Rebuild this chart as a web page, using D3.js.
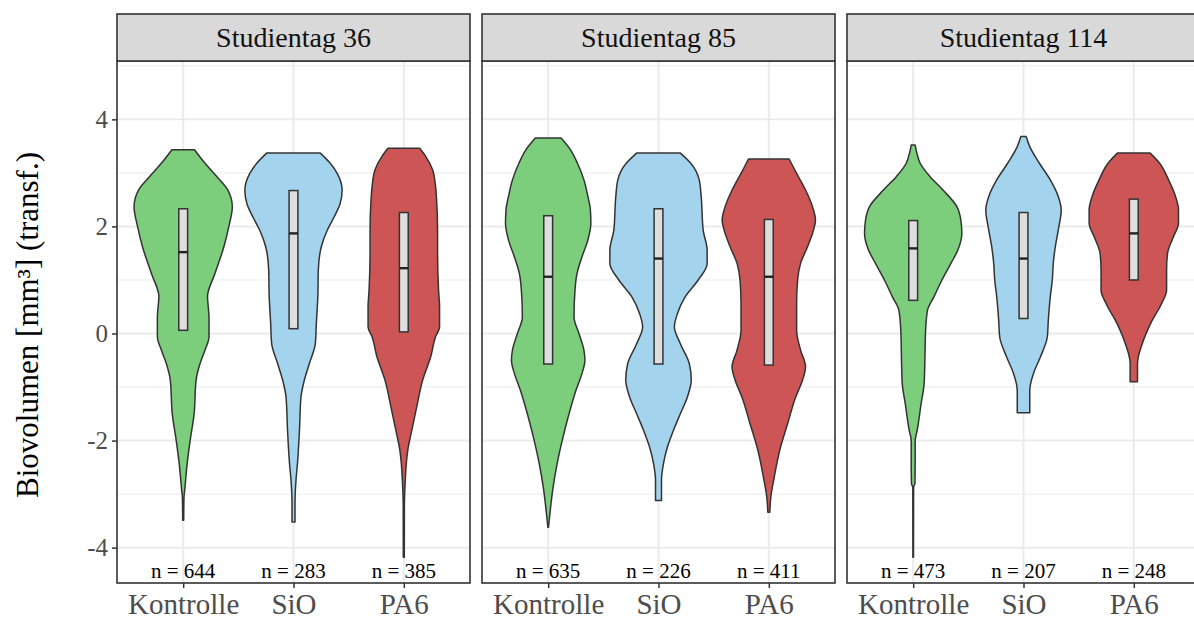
<!DOCTYPE html>
<html>
<head>
<meta charset="utf-8">
<script src="https://cdn.jsdelivr.net/npm/d3@7/dist/d3.min.js"></script>
<style>
  html, body { margin: 0; padding: 0; background: #fff; }
  svg { display: block; }
  text { font-family: "Liberation Serif", "Times New Roman", serif; }
</style>
</head>
<body>
<svg id="chart" width="1194" height="619"></svg>
<script>
// ---------------- data ----------------
const days = ["Studientag 36", "Studientag 85", "Studientag 114"];
const groups = ["Kontrolle", "SiO", "PA6"];
const groupColors = ["#7CCD7C", "#A4D3EE", "#CD5555"];
const yTicks = [-4, -2, 0, 2, 4];
const nCounts = [[644, 283, 385], [635, 226, 411], [473, 207, 248]];

// box statistics per day: [Q1, median, Q3] for Kontrolle, SiO, PA6
const boxDay36  = [[0.06, 1.52, 2.33], [0.09, 1.87, 2.67], [0.03, 1.22, 2.26]];
const boxDay85  = [[-0.57, 1.06, 2.20], [-0.57, 1.40, 2.33], [-0.59, 1.06, 2.13]];
const boxDay114 = [[0.62, 1.59, 2.11], [0.28, 1.40, 2.26], [1.00, 1.87, 2.51]];

// violin density profiles: [value, relative density]
const violin36Kontrolle = [[3.43,.23],[3.18,.44],[2.93,.68],[2.68,.90],[2.37,.99],[2.0,.92],[1.62,.82],[1.12,.64],[0.69,.49],[0.45,.51],[0.31,.52],[-0.06,.52],[-0.31,.44],[-0.56,.34],[-0.87,.26],[-1.5,.22],[-2.0,.14],[-2.43,.08],[-2.93,.03],[-3.06,.016],[-3.49,.01]];
const violin36SiO = [[3.37,.54],[3.18,.74],[2.99,.88],[2.68,.98],[2.43,.94],[2.18,.82],[1.93,.68],[1.62,.56],[1.19,.50],[0.69,.49],[0.19,.46],[-0.19,.44],[-0.56,.32],[-0.94,.20],[-1.19,.15],[-1.81,.12],[-2.43,.08],[-2.74,.05],[-3.18,.03],[-3.52,.03]];
const violin36PA6 = [[3.46,.32],[3.31,.44],[3.06,.58],[2.74,.64],[2.5,.66],[1.93,.68],[1.5,.68],[0.81,.70],[0.5,.72],[0.12,.72],[-0.06,.64],[-0.44,.54],[-0.87,.38],[-1.37,.26],[-1.81,.16],[-2.18,.08],[-2.43,.05],[-2.81,.026],[-3.2,.012],[-4.18,.01]];
const violin85Kontrolle = [[3.65,.26],[3.43,.45],[3.18,.59],[2.87,.72],[2.56,.80],[2.31,.85],[2.06,.86],[1.75,.80],[1.43,.68],[1.12,.58],[0.81,.54],[0.31,.52],[0,.62],[-0.31,.72],[-0.5,.74],[-0.75,.68],[-1.06,.56],[-1.5,.42],[-1.93,.30],[-2.43,.18],[-2.93,.09],[-3.37,.034],[-3.62,.006]];
const violin85SiO = [[3.37,.44],[3.18,.65],[2.87,.82],[2.56,.86],[1.93,.90],[1.56,.98],[1.31,.98],[1.0,.80],[0.69,.54],[0.37,.38],[0.12,.32],[-0.19,.44],[-0.56,.62],[-0.87,.66],[-1.19,.58],[-1.5,.44],[-1.81,.30],[-2.12,.18],[-2.43,.10],[-2.74,.06],[-3.12,.06]];
const violin85PA6 = [[3.26,.41],[2.99,.56],[2.68,.74],[2.37,.88],[2.12,.94],[1.93,.90],[1.62,.78],[1.31,.64],[1.0,.58],[0.56,.56],[0.06,.56],[-0.31,.64],[-0.62,.74],[-0.87,.68],[-1.19,.54],[-1.68,.38],[-2.18,.22],[-2.68,.11],[-3.06,.04],[-3.34,.02]];
const violin114Kontrolle = [[3.52,.04],[3.37,.074],[3.18,.14],[2.93,.34],[2.68,.60],[2.37,.88],[2.12,.96],[1.87,.98],[1.56,.90],[1.31,.76],[1.0,.58],[0.69,.42],[0.44,.29],[0.06,.25],[-0.56,.234],[-0.94,.22],[-1.31,.16],[-1.81,.08],[-2.0,.04],[-2.43,.04],[-2.80,.035],[-2.88,.008],[-4.18,.006]];
const violin114SiO = [[3.68,.054],[3.49,.126],[3.18,.32],[2.87,.54],[2.56,.70],[2.31,.76],[1.93,.70],[1.62,.64],[1.31,.60],[1.0,.58],[0.69,.54],[0.25,.50],[-0.06,.48],[-0.44,.34],[-0.75,.20],[-1.06,.126],[-1.48,.126]];
const violin114PA6 = [[3.37,.33],[3.18,.52],[2.87,.70],[2.56,.84],[2.31,.90],[2.06,.90],[1.81,.80],[1.5,.68],[1.19,.66],[0.81,.66],[0.56,.56],[0.19,.34],[-0.19,.17],[-0.56,.074],[-0.9,.074]];

const violins = [
  [violin36Kontrolle, violin36SiO, violin36PA6],
  [violin85Kontrolle, violin85SiO, violin85PA6],
  [violin114Kontrolle, violin114SiO, violin114PA6]
];
const boxes = [boxDay36, boxDay85, boxDay114];

// ---------------- layout ----------------
const svg = d3.select("#chart");
const panelLefts = [117, 482, 847];
const panelW = 353;
const stripTop = 14, stripH = 47;
const plotTop = stripTop + stripH, plotBottom = 583;

const y = d3.scaleLinear().domain([-4.66, 5.09]).range([plotBottom, plotTop]);
const yMinor = [-3, -1, 1, 3, 5];

const dark = "#333333";

days.forEach((day, pi) => {
  const left = panelLefts[pi];
  const x = d3.scalePoint().domain(groups).range([left, left + panelW]).padding(0.6);
  const step = x.step();
  const g = svg.append("g");

  const clipId = "clip" + pi;
  svg.append("clipPath").attr("id", clipId)
    .append("rect").attr("x", left).attr("y", plotTop).attr("width", panelW).attr("height", plotBottom - plotTop);
  const inner = g.append("g").attr("clip-path", `url(#${clipId})`);

  // grid
  inner.selectAll(".minor").data(yMinor).join("line")
    .attr("x1", left).attr("x2", left + panelW)
    .attr("y1", d => y(d)).attr("y2", d => y(d))
    .attr("stroke", "#F2F2F2").attr("stroke-width", 1.5);
  inner.selectAll(".major").data(yTicks).join("line")
    .attr("x1", left).attr("x2", left + panelW)
    .attr("y1", d => y(d)).attr("y2", d => y(d))
    .attr("stroke", "#EBEBEB").attr("stroke-width", 2);
  inner.selectAll(".vmajor").data(groups).join("line")
    .attr("x1", d => x(d)).attr("x2", d => x(d))
    .attr("y1", plotTop).attr("y2", plotBottom)
    .attr("stroke", "#EBEBEB").attr("stroke-width", 2);

  // violins
  groups.forEach((grp, gi) => {
    const cx = x(grp);
    const half = 0.45 * step;
    const area = d3.area()
      .y(d => y(d[0]))
      .x0(d => cx - d[1] * half)
      .x1(d => cx + d[1] * half)
      .curve(d3.curveMonotoneY);
    inner.append("path")
      .datum(violins[pi][gi])
      .attr("d", area)
      .attr("fill", groupColors[gi])
      .attr("stroke", dark)
      .attr("stroke-width", 1.5)
      .attr("stroke-linejoin", "round");

    // box
    const b = boxes[pi][gi];
    const bw = 0.04 * step;
    inner.append("rect")
      .attr("x", cx - bw).attr("width", 2 * bw)
      .attr("y", y(b[2])).attr("height", y(b[0]) - y(b[2]))
      .attr("fill", "#DEDEDE").attr("stroke", dark).attr("stroke-width", 1.5);
    inner.append("line")
      .attr("x1", cx - bw).attr("x2", cx + bw)
      .attr("y1", y(b[1])).attr("y2", y(b[1]))
      .attr("stroke", "#222").attr("stroke-width", 2.4);

    // n label
    inner.append("text")
      .attr("x", cx).attr("y", y(-4.57))
      .attr("text-anchor", "middle")
      .attr("font-size", 21)
      .attr("fill", "#000")
      .text("n = " + nCounts[pi][gi]);
  });

  // panel border
  g.append("rect")
    .attr("x", left).attr("y", plotTop).attr("width", panelW).attr("height", plotBottom - plotTop)
    .attr("fill", "none").attr("stroke", dark).attr("stroke-width", 1.6);

  // strip
  g.append("rect")
    .attr("x", left).attr("y", stripTop).attr("width", panelW).attr("height", stripH)
    .attr("fill", "#D9D9D9").attr("stroke", dark).attr("stroke-width", 1.6);
  g.append("text")
    .attr("x", left + panelW / 2).attr("y", stripTop + stripH / 2 + 9.5)
    .attr("text-anchor", "middle")
    .attr("font-size", 28)
    .attr("fill", "#111")
    .text(day);

  // x axis
  const xAxis = d3.axisBottom(x).tickSize(5).tickPadding(6);
  const xa = g.append("g").attr("transform", `translate(0,${plotBottom})`).call(xAxis);
  xa.select(".domain").remove();
  xa.selectAll(".tick line").attr("stroke", dark).attr("stroke-width", 1.5);
  xa.selectAll(".tick text")
    .attr("font-family", "Liberation Serif, serif")
    .attr("font-size", 29).attr("fill", "#4D4D4D")
    .attr("dy", "0.7em");

  // y axis on first panel
  if (pi === 0) {
    const yAxis = d3.axisLeft(y).tickValues(yTicks).tickSize(5).tickPadding(4)
      .tickFormat(d => d3.format("d")(d).replace("−", "-"));
    const ya = g.append("g").attr("transform", `translate(${left},0)`).call(yAxis);
    ya.select(".domain").remove();
    ya.selectAll(".tick line").attr("stroke", dark).attr("stroke-width", 1.5);
    ya.selectAll(".tick text")
      .attr("font-family", "Liberation Serif, serif")
      .attr("font-size", 25).attr("fill", "#4D4D4D");
  }
});

// y axis title
svg.append("text")
  .attr("transform", `translate(38,${(plotTop + plotBottom) / 2 + 3}) rotate(-90)`)
  .attr("text-anchor", "middle")
  .attr("font-size", 31)
  .attr("fill", "#000")
  .text("Biovolumen [mm³] (transf.)");
</script>
</body>
</html>
